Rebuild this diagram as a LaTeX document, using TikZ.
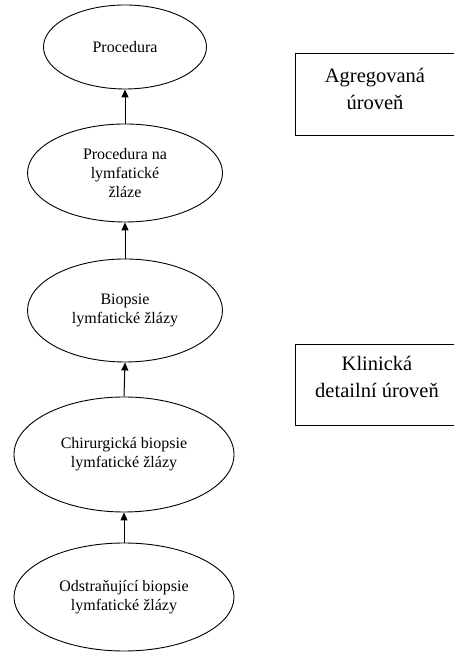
\documentclass[tikz,border=0pt]{standalone}
\usepackage{fontspec}
\setmainfont{Liberation Serif}
\usetikzlibrary{shapes.geometric,arrows.meta}
\begin{document}
\begin{tikzpicture}[x=1pt,y=1pt,
  oval/.style={ellipse,draw,line width=0.9pt,inner sep=0pt,align=center,
    font=\fontsize{16}{19}\selectfont},
  levelbox/.style={draw,line width=0.9pt,inner sep=0pt},
  leveltext/.style={align=center,font=\fontsize{20.5}{27}\selectfont},
  uparrow/.style={line width=1pt,-{Triangle[length=8pt,width=7pt]}}]
\useasboundingbox (0,0) rectangle (454,652);
\node[oval,minimum width=163pt,minimum height=84pt] (e1) at (125,605) {Procedura};
\node[oval,minimum width=195pt,minimum height=98pt] (e2) at (125,479) {Procedura na\\lymfatické\\žláze};
\node[oval,minimum width=195pt,minimum height=103pt] (e3) at (125,341.5) {Biopsie\\lymfatické žlázy};
\node[oval,minimum width=220pt,minimum height=115pt] (e4) at (124,197.5) {Chirurgická biopsie\\lymfatické žlázy};
\node[oval,minimum width=220pt,minimum height=108pt] (e5) at (124,55) {Odstraňující biopsie\\lymfatické žlázy};
\draw[uparrow] (e2.north) -- (e1.south);
\draw[uparrow] (e3.north) -- (e2.south);
\draw[uparrow] (e4.north) -- (e3.south);
\draw[uparrow] (e5.north) -- (e4.south);
\node[levelbox,minimum width=162pt,minimum height=82pt] (b1) at (376,558) {};
\node[leveltext] (t1) at (375,563) {Agregovaná\\úroveň};
\node[levelbox,minimum width=162pt,minimum height=81pt] (b2) at (376,267.5) {};
\node[leveltext] (t2) at (377,275.5) {Klinická\\detailní úroveň};
\end{tikzpicture}
\end{document}
